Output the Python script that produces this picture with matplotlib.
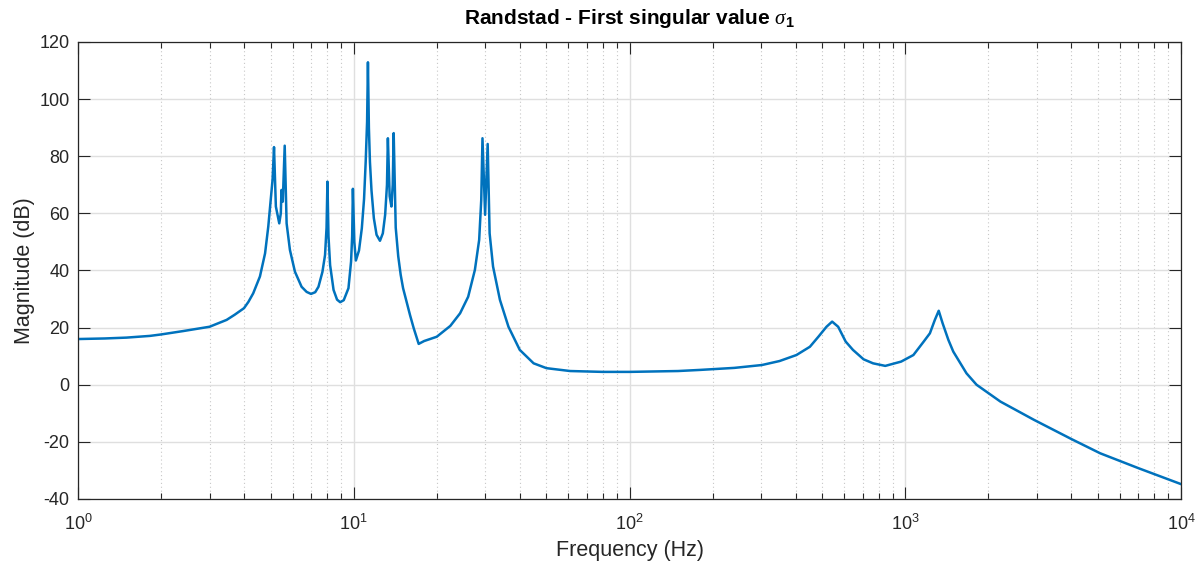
import numpy as np
import matplotlib
matplotlib.use("Agg")
import matplotlib.pyplot as plt
from matplotlib.ticker import LogLocator, MultipleLocator, NullFormatter

plt.rcParams['font.family'] = ['Liberation Sans', 'DejaVu Sans']
plt.rcParams['mathtext.fontset'] = 'custom'
plt.rcParams['mathtext.rm'] = 'Liberation Sans'
plt.rcParams['mathtext.it'] = 'Liberation Serif:italic'
plt.rcParams['mathtext.bf'] = 'Liberation Sans:bold'
plt.rcParams['axes.unicode_minus'] = False

# first singular value of the frequency response, read in (Hz, dB)
freq_hz = [
    1.0, 1.25, 1.5, 1.824, 2.0, 2.41, 3.0, 3.46, 3.7, 4.0, 4.15, 4.32, 4.57, 4.77,
    4.9, 5.0, 5.08, 5.14, 5.22, 5.37, 5.44, 5.47, 5.53, 5.62, 5.71, 5.87, 6.12,
    6.47, 6.75, 7.0, 7.25, 7.45, 7.7, 7.87, 7.97, 8.03, 8.1, 8.21, 8.45, 8.7,
    8.93, 9.2, 9.57, 9.78, 9.87, 9.93, 10.05, 10.18, 10.45, 10.7, 10.9, 11.05,
    11.18, 11.26, 11.35, 11.45, 11.6, 11.83, 12.1, 12.45, 12.75, 13.0, 13.2,
    13.3, 13.5, 13.7, 13.85, 13.96, 14.2, 14.5, 14.8, 15.1, 15.6, 16.0, 16.5,
    17.2, 18.0, 20.0, 22.4, 24.3, 26.0, 27.5, 28.5, 29.0, 29.3, 29.95, 30.6,
    31.1, 32.0, 33.9, 36.4, 40.0, 44.9, 50.0, 60.9, 80.0, 100.0, 150.0, 181.0,
    240.0, 302.0, 350.0, 403.0, 451.0, 484.0, 518.0, 543.0, 571.0, 608.0,
    646.0, 706.0, 764.0, 846.0, 966.0, 1070.0, 1166.0, 1228.0, 1280.0, 1322.0,
    1366.0, 1433.0, 1493.0, 1667.0, 1813.0, 2213.0, 2930.0, 4000.0, 5090.0,
    7000.0, 10000.0,
]
sigma1_db = [
    16.0, 16.2, 16.5, 17.1, 17.6, 18.8, 20.3, 22.7, 24.5, 26.8, 29.0, 32.0, 37.9, 46.0,
    55.4, 64.7, 72.0, 83.2, 62.4, 56.5, 60.0, 68.2, 64.1, 83.7, 56.5, 47.2, 39.6,
    34.3, 32.5, 31.8, 32.4, 34.3, 39.5, 45.4, 55.0, 71.1, 52.0, 41.9, 33.2, 29.8,
    28.9, 29.6, 33.8, 43.1, 52.0, 68.6, 50.0, 43.5, 47.0, 54.8, 65.0, 78.0,
    92.0, 112.9, 90.0, 78.0, 68.0, 58.3, 52.5, 50.4, 53.0, 59.5, 70.0,
    86.3, 66.0, 62.4, 70.0, 88.1, 55.0, 45.0, 38.5, 33.8, 28.5, 24.4, 19.8,
    14.3, 15.3, 16.8, 20.6, 25.0, 30.8, 40.2, 50.7, 64.7, 86.3, 59.5, 84.3,
    53.0, 41.4, 29.7, 20.3, 12.2, 7.5, 5.8, 4.8, 4.5, 4.5, 4.8, 5.2,
    5.9, 6.9, 8.3, 10.4, 13.3, 16.8, 20.3, 22.1, 20.3, 15.1,
    12.2, 8.9, 7.5, 6.6, 8.1, 10.4, 15.1, 18.0, 22.7, 25.9,
    21.5, 15.7, 11.6, 4.0, 0.0, -5.9, -12.3, -19.0, -24.0,
    -29.2, -34.8,
]

ax_col = '#262626'

fig = plt.figure(figsize=(12.01, 5.66), dpi=100)
ax = fig.add_axes([0.0649, 0.1184, 0.9185, 0.8074])

ax.semilogx(freq_hz, sigma1_db, color='#0072BD', lw=1.8, solid_joinstyle='round')

ax.set_xlim(1, 1e4)
ax.set_ylim(-40, 120)
ax.yaxis.set_major_locator(MultipleLocator(20))
ax.xaxis.set_major_locator(LogLocator(base=10, numticks=10))
ax.xaxis.set_minor_locator(LogLocator(base=10, subs=np.arange(2, 10), numticks=20))
ax.xaxis.set_minor_formatter(NullFormatter())

ax.grid(True, which='major', color='#dfdfdf', lw=1.0, ls='-')
ax.grid(True, which='minor', axis='x', color='#c8c8c8', lw=0.8, ls=(0, (1, 2.5)))
ax.set_axisbelow(True)

ax.tick_params(which='both', direction='in', top=True, right=True, colors=ax_col,
               labelsize=13, width=0.8)
ax.tick_params(which='major', length=8.3, pad=6)
ax.tick_params(which='minor', length=4.3)
ax.tick_params(axis='x', which='major', pad=11)
for s in ax.spines.values():
    s.set_color(ax_col)
    s.set_linewidth(0.9)

ax.set_xlabel('Frequency (Hz)', fontsize=15.5, color=ax_col, labelpad=4)
ax.set_ylabel('Magnitude (dB)', fontsize=15.5, color=ax_col, labelpad=3)
ax.set_title(r'Randstad - First singular value $\sigma_{\mathbf{1}}$',
             fontsize=15, fontweight='bold', color='black', pad=13)

fig.savefig('out.png', dpi=100)
